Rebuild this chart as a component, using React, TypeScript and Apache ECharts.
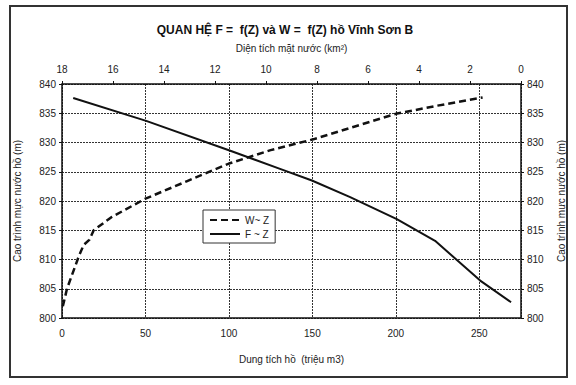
import React, { useEffect, useRef } from "react";
import * as echarts from "echarts";

const titleText = "QUAN HỆ F =  f(Z) và W =  f(Z) hồ Vĩnh Sơn B";
const topAxisName = "Diện tích mặt nước (km²)";
const bottomAxisName = "Dung tích hồ  (triệu m3)";
const yAxisName = "Cao trình mực nước hồ (m)";

// W ~ Z : storage volume (million m3) vs water level (m)
const wVolume = [0.5, 3, 10, 13, 16.5, 19, 30, 50, 75, 100, 125, 150, 175, 200, 225, 252];
const wLevel = [802, 805, 810.5, 812.5, 813.4, 815, 817.3, 820.4, 823.4, 826.4, 828.7, 830.5, 832.7, 834.9, 836.3, 837.7];

// F ~ Z : water surface area (km2) vs water level (m)
const fArea = [0.39, 1.6, 3.37, 4.87, 6.7, 8.2, 9.45, 11.4, 14.7, 17.56];
const fLevel = [802.7, 806.4, 813.2, 816.9, 820.65, 823.5, 825.5, 828.6, 833.7, 837.6];

const FONT = "Liberation Sans, Arial, sans-serif";
const TXT = "#222";
const LINE = "#111";

export default function App() {
  const ref = useRef<HTMLDivElement>(null);
  useEffect(() => {
    document.body.style.margin = "0";
    if (!ref.current) return;
    const chart = echarts.init(ref.current, undefined, { renderer: "svg" });
    const gridLine = { show: true, lineStyle: { color: "#333", width: 1, type: [2, 1] as any } };
    const yAxisCommon = {
      type: "value" as const,
      min: 800,
      max: 840,
      interval: 5,
      name: yAxisName,
      nameLocation: "middle" as const,
      nameTextStyle: { fontFamily: FONT, fontSize: 10, color: TXT },
      axisLine: { show: true, lineStyle: { color: LINE, width: 1.5 } },
      axisTick: { show: true, length: 3, lineStyle: { color: LINE } },
      axisLabel: { fontFamily: FONT, fontSize: 10, color: TXT, margin: 6 },
    };
    chart.setOption({
      animation: false,
      backgroundColor: "#fff",
      textStyle: { fontFamily: FONT },
      title: {
        text: titleText,
        left: 280,
        textAlign: "center",
        top: 19,
        textStyle: { fontFamily: FONT, fontSize: 12, fontWeight: "bold", color: "#111" },
      },
      grid: { left: 62, right: 55, top: 84, bottom: 67 },
      legend: {
        orient: "vertical",
        left: 203,
        top: 210,
        padding: [5, 6, 4, 6],
        itemGap: 4,
        itemWidth: 30,
        itemHeight: 10,
        borderColor: "#333",
        borderWidth: 1,
        backgroundColor: "#fff",
        itemStyle: { opacity: 0 },
        textStyle: { fontFamily: FONT, fontSize: 10, color: TXT },
        data: ["W~ Z", "F ~ Z"],
      },
      xAxis: [
        {
          type: "value",
          position: "bottom",
          min: 0,
          max: 275,
          interval: 50,
          name: bottomAxisName,
          nameLocation: "middle",
          nameGap: 36,
          nameTextStyle: { fontFamily: FONT, fontSize: 10, color: TXT },
          axisLine: { show: true, lineStyle: { color: LINE, width: 1.5 } },
          axisTick: { show: false },
          axisLabel: {
            fontFamily: FONT,
            fontSize: 10,
            color: TXT,
            margin: 10,
            formatter: (v: number) => (v % 50 === 0 ? String(v) : ""),
          },
          splitLine: gridLine,
        },
        {
          type: "value",
          position: "top",
          min: 0,
          max: 18,
          interval: 2,
          inverse: true,
          name: topAxisName,
          nameLocation: "middle",
          nameGap: 31,
          nameTextStyle: { fontFamily: FONT, fontSize: 10, color: TXT },
          axisLine: { show: true, lineStyle: { color: LINE, width: 1.5 } },
          axisTick: { show: true, inside: false, length: 3, lineStyle: { color: LINE } },
          axisLabel: { fontFamily: FONT, fontSize: 10, color: TXT, margin: 10 },
          splitLine: { show: false },
        },
      ],
      yAxis: [
        { ...yAxisCommon, position: "left", nameGap: 40, splitLine: gridLine },
        { ...yAxisCommon, position: "right", nameGap: 35, nameRotate: 90, splitLine: { show: false } },
      ],
      graphic: [
        {
          type: "rect",
          shape: { x: 10, y: 6, width: 557, height: 371 },
          style: { fill: "none", stroke: "#333", lineWidth: 2 },
          silent: true,
          z: 100,
        },
      ],
      series: [
        {
          name: "W~ Z",
          type: "line",
          xAxisIndex: 0,
          yAxisIndex: 0,
          showSymbol: false,
          symbol: "none",
          smooth: false,
          lineStyle: { color: LINE, width: 2.5, type: [7, 4] as any },
          itemStyle: { color: LINE },
          data: wVolume.map((w, i) => [w, wLevel[i]]),
          z: 5,
        },
        {
          name: "F ~ Z",
          type: "line",
          xAxisIndex: 1,
          yAxisIndex: 0,
          showSymbol: false,
          symbol: "none",
          lineStyle: { color: LINE, width: 2 },
          itemStyle: { color: LINE },
          data: fArea.map((f, i) => [f, fLevel[i]]),
          z: 5,
        },
      ],
    });
    return () => chart.dispose();
  }, []);
  return <div ref={ref} style={{ width: 576, height: 385 }} />;
}
